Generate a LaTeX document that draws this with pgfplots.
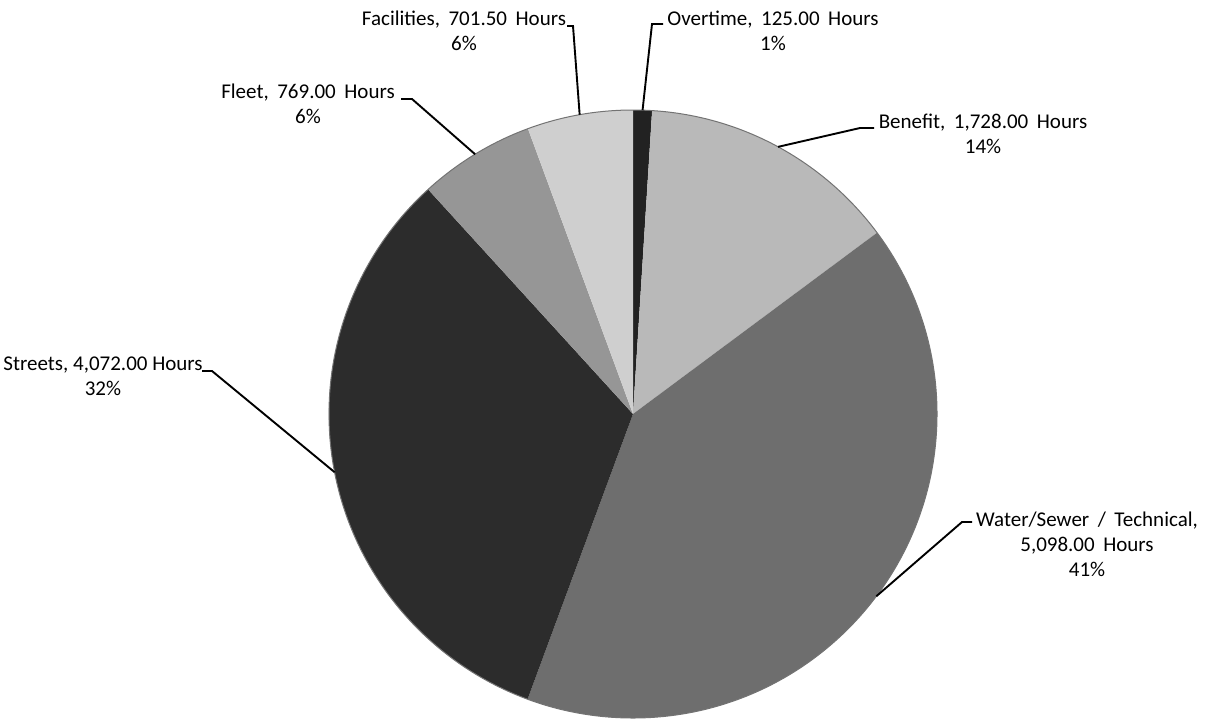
\documentclass[border=0pt]{standalone}
\usepackage{pgfplots}
\pgfplotsset{compat=1.18}
\usepackage{fontspec}
\setmainfont{Carlito}[WordSpace=1.8]
\newfontfamily\tightfont{Carlito}

% slice fills, clockwise from the top
\definecolor{cOvertime}{HTML}{222222}
\definecolor{cBenefit}{HTML}{B9B9B9}
\definecolor{cWater}{HTML}{6E6E6E}
\definecolor{cStreets}{HTML}{2C2C2C}
\definecolor{cFleet}{HTML}{969696}
\definecolor{cFacilities}{HTML}{CFCFCF}

% hours per category
\def\vOvertime{125}
\def\vBenefit{1728}
\def\vWater{5098}
\def\vStreets{4072}
\def\vFleet{769}
\def\vFacilities{701.5}

% pie centre and radius (axis units) and radius on the page
\def\cx{633}
\def\cy{414}
\def\R{304}
\def\Rpt{152pt}

\begin{document}
\begin{tikzpicture}[every node/.style={font=\fontsize{10.5pt}{12.5pt}\selectfont, inner sep=0pt, text=black}]
% cumulative angles, starting at 12 o'clock and running clockwise
\pgfmathsetmacro\tot{\vOvertime+\vBenefit+\vWater+\vStreets+\vFleet+\vFacilities}
\pgfmathsetmacro\aA{90}
\pgfmathsetmacro\aB{\aA-\vOvertime/\tot*360}
\pgfmathsetmacro\aC{\aB-\vBenefit/\tot*360}
\pgfmathsetmacro\aD{\aC-\vWater/\tot*360}
\pgfmathsetmacro\aE{\aD-\vStreets/\tot*360}
\pgfmathsetmacro\aF{\aE-\vFleet/\tot*360}
\pgfmathsetmacro\aG{\aF-\vFacilities/\tot*360}
% leader anchor points on the rim, at each slice's middle angle
\newcommand\rim[3]{%
  \pgfmathsetmacro#1{\cx+\R*cos((#3)/2)}%
  \pgfmathsetmacro#2{\cy-\R*sin((#3)/2)}}
\rim\xOvertime\yOvertime{\aA+\aB}
\rim\xBenefit\yBenefit{\aB+\aC}
\rim\xWater\yWater{\aC+\aD}
\rim\xStreets\yStreets{\aD+\aE}
\rim\xFleet\yFleet{\aE+\aF}
\rim\xFacilities\yFacilities{\aF+\aG}

\begin{axis}[hide axis, scale only axis,
  x=0.5pt, y=0.5pt, xmin=0, xmax=1208, ymin=0, ymax=718, y dir=reverse]
  \path (axis cs:0,0) rectangle (axis cs:1208,718);

  % slices
  \fill[cOvertime]   (axis cs:\cx,\cy) -- ++(\aA:\Rpt) arc[start angle=\aA, end angle=\aB, radius=\Rpt] -- cycle;
  \fill[cBenefit]    (axis cs:\cx,\cy) -- ++(\aB:\Rpt) arc[start angle=\aB, end angle=\aC, radius=\Rpt] -- cycle;
  \fill[cWater]      (axis cs:\cx,\cy) -- ++(\aC:\Rpt) arc[start angle=\aC, end angle=\aD, radius=\Rpt] -- cycle;
  \fill[cStreets]    (axis cs:\cx,\cy) -- ++(\aD:\Rpt) arc[start angle=\aD, end angle=\aE, radius=\Rpt] -- cycle;
  \fill[cFleet]      (axis cs:\cx,\cy) -- ++(\aE:\Rpt) arc[start angle=\aE, end angle=\aF, radius=\Rpt] -- cycle;
  \fill[cFacilities] (axis cs:\cx,\cy) -- ++(\aF:\Rpt) arc[start angle=\aF, end angle=\aG, radius=\Rpt] -- cycle;
  \draw[black!55, line width=0.5pt] (axis cs:\cx,\cy) circle[radius=\Rpt];

  % leader lines
  \begin{scope}[black, line width=0.95pt]
    \draw (axis cs:\xOvertime,\yOvertime) -- (axis cs:652,24) -- (axis cs:663,24);
    \draw (axis cs:\xFacilities,\yFacilities) -- (axis cs:573,26) -- (axis cs:567,26);
    \draw (axis cs:\xFleet,\yFleet) -- (axis cs:412,99) -- (axis cs:401,99);
    \draw (axis cs:\xBenefit,\yBenefit) -- (axis cs:860,128) -- (axis cs:874,128);
    \draw (axis cs:\xStreets,\yStreets) -- (axis cs:212,371) -- (axis cs:202,371);
    \draw (axis cs:\xWater,\yWater) -- (axis cs:962,522) -- (axis cs:972,522);
  \end{scope}

  % data labels
  \node[anchor=base] at (axis cs:773,25) {Overtime, 125.00 Hours};
  \node[anchor=base] at (axis cs:773,50) {1\%};
  \node[anchor=base] at (axis cs:464,25) {Facilities, 701.50 Hours};
  \node[anchor=base] at (axis cs:464,50) {6\%};
  \node[anchor=base] at (axis cs:308,98) {Fleet, 769.00 Hours};
  \node[anchor=base] at (axis cs:308,123) {6\%};
  \node[anchor=base] at (axis cs:983,128) {Benefit, 1,728.00 Hours};
  \node[anchor=base] at (axis cs:983,153) {14\%};
  \node[anchor=base, font=\fontsize{10.5pt}{12.5pt}\tightfont] at (axis cs:103,370) {Streets, 4,072.00 Hours};
  \node[anchor=base, font=\fontsize{10.5pt}{12.5pt}\tightfont] at (axis cs:103,395) {32\%};
  \node[anchor=base] at (axis cs:1087,526) {Water/Sewer / Technical,};
  \node[anchor=base] at (axis cs:1087,551) {5,098.00 Hours};
  \node[anchor=base] at (axis cs:1087,576) {41\%};
\end{axis}
\end{tikzpicture}
\end{document}
